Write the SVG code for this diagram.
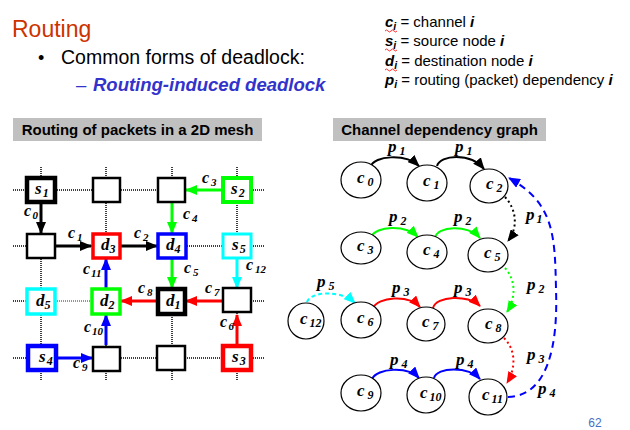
<svg xmlns="http://www.w3.org/2000/svg" width="630" height="430" viewBox="0 0 630 430">
<style>
.sans{font-family:"Liberation Sans",Arial,sans-serif}
.hdr{font-family:"Liberation Sans",Arial,sans-serif;font-weight:bold;font-size:15px;fill:#000}
.lb{font-family:"Liberation Serif","Times New Roman",serif;font-style:italic;font-weight:bold;font-size:17px;fill:#000}
.el{font-family:"Liberation Serif","Times New Roman",serif;font-style:italic;font-weight:bold;font-size:16px;fill:#000}
.sb{font-size:12px}
.esb{font-size:11px}
.grid{stroke:#000;stroke-width:1.5;stroke-dasharray:1 1;fill:none}
.box{fill:#fff}
.ma{stroke-width:3;fill:none}
.ga{stroke-width:2;fill:none}
.circ{fill:#fff;stroke:#000;stroke-width:1.2}
.lg{font-family:"Liberation Sans",Arial,sans-serif;font-size:15px;fill:#000}
.lgb{font-weight:bold;font-style:italic}
</style>
<defs>
<marker id="ak" markerUnits="userSpaceOnUse" markerWidth="12" markerHeight="10" refX="11" refY="5" orient="auto"><path d="M0,0 L12,5 L0,10 z" fill="#000"/></marker>
<marker id="ag" markerUnits="userSpaceOnUse" markerWidth="12" markerHeight="10" refX="11" refY="5" orient="auto"><path d="M0,0 L12,5 L0,10 z" fill="#00ff00"/></marker>
<marker id="ar" markerUnits="userSpaceOnUse" markerWidth="12" markerHeight="10" refX="11" refY="5" orient="auto"><path d="M0,0 L12,5 L0,10 z" fill="#ff0000"/></marker>
<marker id="ab" markerUnits="userSpaceOnUse" markerWidth="12" markerHeight="10" refX="11" refY="5" orient="auto"><path d="M0,0 L12,5 L0,10 z" fill="#0000ff"/></marker>
<marker id="ac" markerUnits="userSpaceOnUse" markerWidth="12" markerHeight="10" refX="11" refY="5" orient="auto"><path d="M0,0 L12,5 L0,10 z" fill="#00ffff"/></marker>
</defs>
<rect width="630" height="430" fill="#fff"/>

<!-- Title and bullets -->
<text x="12" y="37" class="sans" font-size="23" fill="#cc3300">Routing</text>
<text x="38" y="64" class="sans" font-size="18" fill="#000">•</text>
<text x="61" y="64" class="sans" font-size="19.5" fill="#000">Common forms of deadlock:</text>
<text x="76" y="91" class="sans" font-size="18.5" fill="#3333cc">–</text>
<text x="93" y="91" class="sans" font-size="18.5" font-weight="bold" font-style="italic" fill="#3333cc">Routing-induced deadlock</text>

<!-- Legend -->
<g id="legend">
<text x="385" y="27" class="lg"><tspan class="lgb">c</tspan><tspan class="lgb" font-size="10.5" dy="3">i</tspan><tspan dy="-3"> = channel </tspan><tspan class="lgb">i</tspan></text>
<text x="385" y="46" class="lg"><tspan class="lgb">s</tspan><tspan class="lgb" font-size="10.5" dy="3">i</tspan><tspan dy="-3"> = source node </tspan><tspan class="lgb">i</tspan></text>
<text x="385" y="66" class="lg"><tspan class="lgb">d</tspan><tspan class="lgb" font-size="10.5" dy="3">i</tspan><tspan dy="-3"> = destination node </tspan><tspan class="lgb">i</tspan></text>
<text x="385" y="85" class="lg"><tspan class="lgb">p</tspan><tspan class="lgb" font-size="10.5" dy="3">i</tspan><tspan dy="-3"> = routing (packet) dependency </tspan><tspan class="lgb">i</tspan></text>
<path d="M385 31 q1.5 -2 3 0 t3 0 t3 0 t3 0" stroke="#ff0000" stroke-width="0.8" fill="none"/>
<path d="M385 50 q1.5 -2 3 0 t3 0 t3 0 t3 0" stroke="#ff0000" stroke-width="0.8" fill="none"/>
<path d="M385 70 q1.5 -2 3 0 t3 0 t3 0 t3 0" stroke="#ff0000" stroke-width="0.8" fill="none"/>
</g>

<!-- Section headers -->
<rect x="13" y="118" width="249" height="23" fill="#c0c0c0"/>
<text x="137.5" y="135" class="hdr" text-anchor="middle">Routing of packets in a 2D mesh</text>
<rect x="333" y="118" width="213" height="23" fill="#c0c0c0"/>
<text x="439.5" y="135" class="hdr" text-anchor="middle">Channel dependency graph</text>

<!-- Mesh grid -->
<g id="mesh-grid">
<line class="grid" x1="13" y1="190" x2="265" y2="190"/>
<line class="grid" x1="13" y1="246" x2="265" y2="246"/>
<line class="grid" x1="13" y1="301" x2="265" y2="301"/>
<line class="grid" x1="13" y1="358" x2="265" y2="358"/>
<line class="grid" x1="41" y1="167" x2="41" y2="380"/>
<line class="grid" x1="106" y1="167" x2="106" y2="380"/>
<line class="grid" x1="172" y1="167" x2="172" y2="380"/>
<line class="grid" x1="237" y1="167" x2="237" y2="380"/>
</g>

<!-- Mesh connectors -->
<g id="mesh-connectors">
<line x1="55" y1="301" x2="92" y2="301" stroke="#00ffff" stroke-width="1.5" stroke-dasharray="1 1"/>
<path class="ma" stroke="#000" d="M41 203 L41 233" marker-end="url(#ak)"/>
<path class="ma" stroke="#000" d="M56 246 L91 246" marker-end="url(#ak)"/>
<path class="ma" stroke="#000" d="M121 246 L157 246" marker-end="url(#ak)"/>
<path class="ma" stroke="#00ff00" d="M222 190 L186 190" marker-end="url(#ag)"/>
<path class="ma" stroke="#00ff00" d="M172 203 L172 233" marker-end="url(#ag)"/>
<path class="ma" stroke="#00ff00" d="M172 259 L172 288" marker-end="url(#ag)"/>
<path class="ma" stroke="#00ffff" d="M237 259 L237 288" marker-end="url(#ac)"/>
<path class="ma" stroke="#ff0000" d="M222 301 L186 301" marker-end="url(#ar)"/>
<path class="ma" stroke="#ff0000" d="M157 301 L121 301" marker-end="url(#ar)"/>
<path class="ma" stroke="#ff0000" d="M237 345 L237 315" marker-end="url(#ar)"/>
<path class="ma" stroke="#0000ff" d="M56 358 L92 358" marker-end="url(#ab)"/>
<path class="ma" stroke="#0000ff" d="M106 345 L106 315" marker-end="url(#ab)"/>
<path class="ma" stroke="#0000ff" d="M106 288 L106 259" marker-end="url(#ab)"/>
<text x="24" y="216" class="el">c<tspan class="esb" dx="1.5" dy="3">0</tspan></text>
<text x="68" y="238" class="el">c<tspan class="esb" dx="2" dy="3">1</tspan></text>
<text x="134" y="238" class="el">c<tspan class="esb" dx="2" dy="3">2</tspan></text>
<text x="202" y="183" class="el">c<tspan class="esb" dx="2" dy="3">3</tspan></text>
<text x="183" y="219" class="el">c<tspan class="esb" dx="2" dy="3">4</tspan></text>
<text x="184" y="273" class="el">c<tspan class="esb" dx="2" dy="3">5</tspan></text>
<text x="246" y="270" class="el">c<tspan class="esb" dx="2" dy="3">12</tspan></text>
<text x="205" y="293" class="el">c<tspan class="esb" dx="2" dy="3">7</tspan></text>
<text x="138" y="293" class="el">c<tspan class="esb" dx="2" dy="3">8</tspan></text>
<text x="220" y="327" class="el">c<tspan class="esb" dx="1.5" dy="3">6</tspan></text>
<text x="73" y="368" class="el">c<tspan class="esb" dx="2" dy="3">9</tspan></text>
<text x="84" y="332" class="el">c<tspan class="esb" dx="1" dy="3">10</tspan></text>
<text x="83" y="274" class="el">c<tspan class="esb" dx="1" dy="3">11</tspan></text>
</g>

<!-- Mesh nodes -->
<g id="s1"><rect class="box" x="27" y="178" width="28" height="24" stroke="#000" stroke-width="4.5"/><text x="35" y="194" class="lb">s<tspan class="sb" dx="1" dy="3">1</tspan></text></g>
<g id="n12"><rect class="box" x="93" y="178" width="27" height="24" stroke="#000" stroke-width="2.5"/></g>
<g id="n13"><rect class="box" x="158" y="178" width="27" height="24" stroke="#000" stroke-width="2.5"/></g>
<g id="s2"><rect class="box" x="223" y="178" width="28" height="24" stroke="#00ff00" stroke-width="4"/><text x="231" y="194" class="lb">s<tspan class="sb" dx="1" dy="3">2</tspan></text></g>
<g id="n21"><rect class="box" x="27" y="234" width="28" height="24" stroke="#000" stroke-width="2.5"/></g>
<g id="d3"><rect class="box" x="93" y="234" width="27" height="24" stroke="#ff0000" stroke-width="3.5"/><text x="101" y="250" class="lb">d<tspan class="sb" dx="0" dy="3">3</tspan></text></g>
<g id="d4"><rect class="box" x="158" y="234" width="28" height="24" stroke="#0000ff" stroke-width="3.5"/><text x="166" y="250" class="lb">d<tspan class="sb" dx="0" dy="3">4</tspan></text></g>
<g id="s5"><rect class="box" x="223" y="234" width="28" height="24" stroke="#00ffff" stroke-width="3"/><text x="232" y="250" class="lb">s<tspan class="sb" dx="1" dy="3">5</tspan></text></g>
<g id="d5"><rect class="box" x="27" y="289" width="28" height="25" stroke="#00ffff" stroke-width="3.5"/><text x="36" y="306" class="lb">d<tspan class="sb" dx="0" dy="3">5</tspan></text></g>
<g id="d2"><rect class="box" x="92" y="289" width="28" height="25" stroke="#00ff00" stroke-width="3.5"/><text x="100" y="306" class="lb">d<tspan class="sb" dx="0" dy="3">2</tspan></text></g>
<g id="d1"><rect class="box" x="158" y="289" width="27" height="25" stroke="#000" stroke-width="4.5"/><text x="166" y="306" class="lb">d<tspan class="sb" dx="0" dy="3">1</tspan></text></g>
<g id="n34"><rect class="box" x="223" y="288" width="28" height="24" stroke="#000" stroke-width="2.5"/></g>
<g id="s4"><rect class="box" x="28" y="346" width="28" height="24" stroke="#0000ff" stroke-width="4.5"/><text x="39" y="362" class="lb">s<tspan class="sb" dx="1" dy="3">4</tspan></text></g>
<g id="n42"><rect class="box" x="93" y="347" width="27" height="24" stroke="#000" stroke-width="2.5"/></g>
<g id="n43"><rect class="box" x="157" y="346" width="28" height="24" stroke="#000" stroke-width="2.5"/></g>
<g id="s3"><rect class="box" x="223" y="346" width="28" height="24" stroke="#ff0000" stroke-width="4.5"/><text x="232" y="362" class="lb">s<tspan class="sb" dx="1" dy="3">3</tspan></text></g>

<!-- Dependency graph connectors -->
<g id="graph-connectors">
<path class="ga" stroke="#000" d="M371 166 C374 156 405 153 419 166" marker-end="url(#ak)"/>
<path class="ga" stroke="#000" d="M437 166 C440 155 470 152 484 169" marker-end="url(#ak)"/>
<path class="ga" stroke="#00ff00" d="M371 237 C376 226 405 224 418 237" marker-end="url(#ag)"/>
<path class="ga" stroke="#00ff00" d="M435 238 C437 226 468 224 480 238" marker-end="url(#ag)"/>
<path class="ga" stroke="#ff0000" d="M373 308 C378 297 408 294 420 307" marker-end="url(#ar)"/>
<path class="ga" stroke="#ff0000" d="M433 308 C436 296 468 294 480 306" marker-end="url(#ar)"/>
<path class="ga" stroke="#0000ff" d="M372 379 C377 368 408 366 419 378" marker-end="url(#ab)"/>
<path class="ga" stroke="#0000ff" d="M434 378 C437 367 468 366 480 379" marker-end="url(#ab)"/>
<path class="ga" stroke="#00ffff" stroke-dasharray="4 3" d="M307 302 C310 292 340 289 355 303" marker-end="url(#ac)"/>
<path class="ga" stroke="#000" stroke-dasharray="2 3" d="M505 197 C517 210 518 228 508 241" marker-end="url(#ak)"/>
<path class="ga" stroke="#00ff00" stroke-dasharray="2 3" d="M505 268 C516 280 516 298 507 312" marker-end="url(#ag)"/>
<path class="ga" stroke="#ff0000" stroke-dasharray="2 3" d="M504 338 C516 350 516 368 507 383" marker-end="url(#ar)"/>
<path class="ga" stroke="#0000ff" stroke-width="2.5" stroke-dasharray="7 5" d="M508 397 C548 396 558 345 556 290 C555 235 554 203 509 178" marker-end="url(#ab)"/>
<text x="388" y="152" class="lb">p<tspan class="sb" dx="3" dy="3">1</tspan></text>
<text x="455" y="152" class="lb">p<tspan class="sb" dx="3" dy="3">1</tspan></text>
<text x="389" y="222" class="lb">p<tspan class="sb" dx="3" dy="3">2</tspan></text>
<text x="454" y="222" class="lb">p<tspan class="sb" dx="3" dy="3">2</tspan></text>
<text x="392" y="293" class="lb">p<tspan class="sb" dx="3" dy="3">3</tspan></text>
<text x="454" y="293" class="lb">p<tspan class="sb" dx="3" dy="3">3</tspan></text>
<text x="390" y="365" class="lb">p<tspan class="sb" dx="3" dy="3">4</tspan></text>
<text x="456" y="365" class="lb">p<tspan class="sb" dx="3" dy="3">4</tspan></text>
<text x="317" y="287" class="lb">p<tspan class="sb" dx="3" dy="3">5</tspan></text>
<text x="526" y="220" class="lb">p<tspan class="sb" dx="2" dy="3">1</tspan></text>
<text x="527" y="290" class="lb">p<tspan class="sb" dx="3" dy="3">2</tspan></text>
<text x="527" y="360" class="lb">p<tspan class="sb" dx="3" dy="3">3</tspan></text>
<text x="538" y="394" class="lb">p<tspan class="sb" dx="3" dy="3">4</tspan></text>
</g>

<!-- Dependency graph nodes -->
<g id="gc0"><ellipse class="circ" cx="361" cy="180" rx="20" ry="18"/><text x="357" y="183" class="lb">c<tspan class="sb" dx="3" dy="3">0</tspan></text></g>
<g id="gc1"><ellipse class="circ" cx="427" cy="183" rx="20" ry="18"/><text x="423" y="186" class="lb">c<tspan class="sb" dx="3" dy="3">1</tspan></text></g>
<g id="gc2"><ellipse class="circ" cx="489" cy="186" rx="19" ry="17"/><text x="486" y="189" class="lb">c<tspan class="sb" dx="3" dy="3">2</tspan></text></g>
<g id="gc3"><ellipse class="circ" cx="361" cy="248" rx="20" ry="16"/><text x="357" y="251" class="lb">c<tspan class="sb" dx="3" dy="3">3</tspan></text></g>
<g id="gc4"><ellipse class="circ" cx="427" cy="252" rx="20" ry="17"/><text x="423" y="255" class="lb">c<tspan class="sb" dx="3" dy="3">4</tspan></text></g>
<g id="gc5"><ellipse class="circ" cx="488" cy="255" rx="20" ry="17"/><text x="484" y="258" class="lb">c<tspan class="sb" dx="3" dy="3">5</tspan></text></g>
<g id="gc12"><ellipse class="circ" cx="306" cy="321" rx="18" ry="18"/><text x="300" y="324" class="lb">c<tspan class="sb" dx="2" dy="3">12</tspan></text></g>
<g id="gc6"><ellipse class="circ" cx="361" cy="320" rx="20" ry="18"/><text x="357" y="323" class="lb">c<tspan class="sb" dx="3" dy="3">6</tspan></text></g>
<g id="gc7"><ellipse class="circ" cx="426" cy="324" rx="19" ry="17"/><text x="422" y="327" class="lb">c<tspan class="sb" dx="3" dy="3">7</tspan></text></g>
<g id="gc8"><ellipse class="circ" cx="488" cy="326" rx="20" ry="17"/><text x="485" y="329" class="lb">c<tspan class="sb" dx="3" dy="3">8</tspan></text></g>
<g id="gc9"><ellipse class="circ" cx="361" cy="393" rx="20" ry="18"/><text x="357" y="396" class="lb">c<tspan class="sb" dx="3" dy="3">9</tspan></text></g>
<g id="gc10"><ellipse class="circ" cx="426" cy="395" rx="19" ry="18"/><text x="420" y="398" class="lb">c<tspan class="sb" dx="2" dy="3">10</tspan></text></g>
<g id="gc11"><ellipse class="circ" cx="488" cy="397" rx="19" ry="18"/><text x="482" y="400" class="lb">c<tspan class="sb" dx="2" dy="3">11</tspan></text></g>

<text x="595" y="427" class="sans" font-size="12" fill="#4472c4" text-anchor="middle">62</text>
</svg>
